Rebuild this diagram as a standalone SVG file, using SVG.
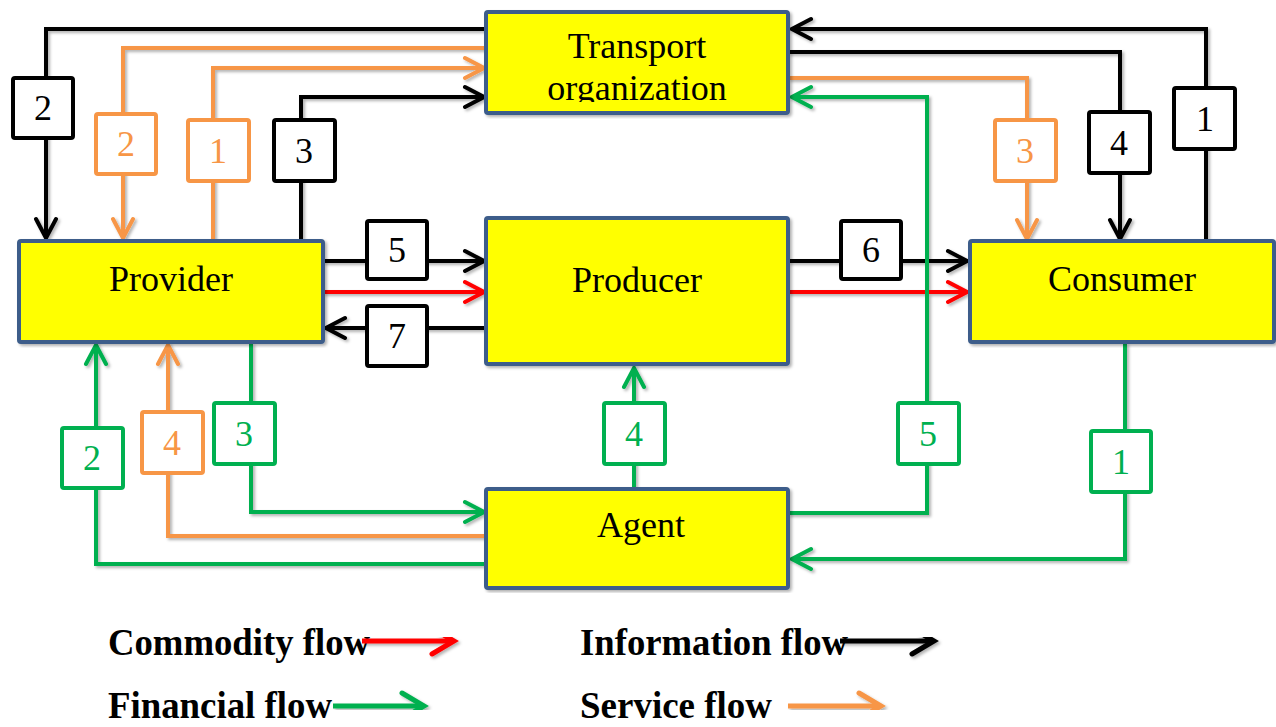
<svg xmlns="http://www.w3.org/2000/svg" width="1276" height="727" viewBox="0 0 1276 727">
<style>
.box{fill:#ffff00;stroke:#3c5d8a;stroke-width:4}
.nt{font-family:"Liberation Serif","Times New Roman",serif;font-size:36px;fill:#000;text-anchor:middle}
.ln{fill:none;stroke-width:4;stroke-linejoin:miter}
.k{stroke:#000}.r{stroke:#ff0000}.g{stroke:#00b050}.o{stroke:#f79646}
.lb{fill:#fff;stroke-width:4}
.lt{font-family:"Liberation Serif","Times New Roman",serif;font-size:36px;text-anchor:middle}
.tk{fill:#000}.tg{fill:#00b050}.to{fill:#f79646}
.leg{font-family:"Liberation Serif","Times New Roman",serif;font-size:37px;font-weight:bold;fill:#000}
.la{fill:none;stroke-width:5}
</style>
<defs>
<filter id="sh" x="-5%" y="-5%" width="110%" height="110%">
<feDropShadow dx="2" dy="2" stdDeviation="1.5" flood-color="#000" flood-opacity="0.3"/>
</filter>
<marker id="ak" markerUnits="userSpaceOnUse" viewBox="-24 -14 28 28" refX="0" refY="0" markerWidth="28" markerHeight="28" orient="auto"><path d="M-19,-10 L0,0 L-19,10" fill="none" stroke="#000" stroke-width="4" stroke-linecap="round"/></marker>
<marker id="ar" markerUnits="userSpaceOnUse" viewBox="-24 -14 28 28" refX="0" refY="0" markerWidth="28" markerHeight="28" orient="auto"><path d="M-19,-10 L0,0 L-19,10" fill="none" stroke="#ff0000" stroke-width="4" stroke-linecap="round"/></marker>
<marker id="ag" markerUnits="userSpaceOnUse" viewBox="-24 -14 28 28" refX="0" refY="0" markerWidth="28" markerHeight="28" orient="auto"><path d="M-19,-10 L0,0 L-19,10" fill="none" stroke="#00b050" stroke-width="4" stroke-linecap="round"/></marker>
<marker id="ao" markerUnits="userSpaceOnUse" viewBox="-24 -14 28 28" refX="0" refY="0" markerWidth="28" markerHeight="28" orient="auto"><path d="M-19,-10 L0,0 L-19,10" fill="none" stroke="#f79646" stroke-width="4" stroke-linecap="round"/></marker>
<marker id="lk" markerUnits="userSpaceOnUse" viewBox="-30 -18 36 36" refX="0" refY="0" markerWidth="36" markerHeight="36" orient="auto"><path d="M-22,-13 L0,0 L-22,13" fill="none" stroke="#000" stroke-width="5" stroke-linecap="round"/></marker>
<marker id="lr" markerUnits="userSpaceOnUse" viewBox="-30 -18 36 36" refX="0" refY="0" markerWidth="36" markerHeight="36" orient="auto"><path d="M-22,-13 L0,0 L-22,13" fill="none" stroke="#ff0000" stroke-width="5" stroke-linecap="round"/></marker>
<marker id="lg" markerUnits="userSpaceOnUse" viewBox="-30 -18 36 36" refX="0" refY="0" markerWidth="36" markerHeight="36" orient="auto"><path d="M-22,-13 L0,0 L-22,13" fill="none" stroke="#00b050" stroke-width="5" stroke-linecap="round"/></marker>
<marker id="lo" markerUnits="userSpaceOnUse" viewBox="-30 -18 36 36" refX="0" refY="0" markerWidth="36" markerHeight="36" orient="auto"><path d="M-22,-13 L0,0 L-22,13" fill="none" stroke="#f79646" stroke-width="5" stroke-linecap="round"/></marker>
<clipPath id="tclip"><rect x="488" y="14" width="298" height="88"/></clipPath>
</defs>
<rect width="1276" height="727" fill="#fff"/>

<g id="connectors" filter="url(#sh)">
<path class="ln k" d="M486,29 H46 V238" marker-end="url(#ak)"/>
<path class="ln k" d="M1206,241 V29 H792" marker-end="url(#ak)"/>
<path class="ln k" d="M788,52 H1120 V239" marker-end="url(#ak)"/>
<path class="ln k" d="M301,241 V97 H484" marker-end="url(#ak)"/>
<path class="ln k" d="M323,261 H484" marker-end="url(#ak)"/>
<path class="ln k" d="M486,328 H326" marker-end="url(#ak)"/>
<path class="ln k" d="M788,261 H967" marker-end="url(#ak)"/>
<path class="ln r" d="M323,292 H484" marker-end="url(#ar)"/>
<path class="ln r" d="M788,292 H967" marker-end="url(#ar)"/>
<path class="ln o" d="M486,48 H123 V238" marker-end="url(#ao)"/>
<path class="ln o" d="M213,241 V68 H484" marker-end="url(#ao)"/>
<path class="ln o" d="M788,78 H1027 V239" marker-end="url(#ao)"/>
<path class="ln o" d="M486,536 H168 V345" marker-end="url(#ao)"/>
<path class="ln g" d="M788,513 H927 V97 H792" marker-end="url(#ag)"/>
<path class="ln g" d="M1125,343 V559 H792" marker-end="url(#ag)"/>
<path class="ln g" d="M486,564 H96 V345" marker-end="url(#ag)"/>
<path class="ln g" d="M251,343 V512 H484" marker-end="url(#ag)"/>
<path class="ln g" d="M634,489 V368" marker-end="url(#ag)"/>
</g>

<g id="labels">
<g id="lbl-i2"><rect class="lb k" x="13" y="78" width="60" height="60" rx="2"/><text class="lt tk" x="43" y="120">2</text></g>
<g id="lbl-i1"><rect class="lb k" x="1174" y="88" width="61" height="61" rx="2"/><text class="lt tk" x="1205" y="131">1</text></g>
<g id="lbl-i4"><rect class="lb k" x="1089" y="112" width="61" height="61" rx="2"/><text class="lt tk" x="1119" y="155">4</text></g>
<g id="lbl-i3"><rect class="lb k" x="274" y="120" width="61" height="61" rx="2"/><text class="lt tk" x="304" y="163">3</text></g>
<g id="lbl-i5"><rect class="lb k" x="367" y="221" width="60" height="58" rx="2"/><text class="lt tk" x="397" y="262">5</text></g>
<g id="lbl-i7"><rect class="lb k" x="367" y="306" width="60" height="60" rx="2"/><text class="lt tk" x="397" y="348">7</text></g>
<g id="lbl-i6"><rect class="lb k" x="841" y="221" width="60" height="58" rx="2"/><text class="lt tk" x="871" y="262">6</text></g>
<g id="lbl-s2"><rect class="lb o" x="96" y="114" width="60" height="60" rx="2"/><text class="lt to" x="126" y="156">2</text></g>
<g id="lbl-s1"><rect class="lb o" x="188" y="120" width="61" height="61" rx="2"/><text class="lt to" x="218" y="163">1</text></g>
<g id="lbl-s3"><rect class="lb o" x="995" y="120" width="61" height="61" rx="2"/><text class="lt to" x="1025" y="163">3</text></g>
<g id="lbl-s4"><rect class="lb o" x="142" y="412" width="61" height="61" rx="2"/><text class="lt to" x="172" y="455">4</text></g>
<g id="lbl-f5"><rect class="lb g" x="898" y="403" width="61" height="61" rx="2"/><text class="lt tg" x="928" y="446">5</text></g>
<g id="lbl-f1"><rect class="lb g" x="1091" y="431" width="60" height="61" rx="2"/><text class="lt tg" x="1121" y="474">1</text></g>
<g id="lbl-f2"><rect class="lb g" x="62" y="428" width="61" height="60" rx="2"/><text class="lt tg" x="92" y="470">2</text></g>
<g id="lbl-f3"><rect class="lb g" x="214" y="403" width="61" height="61" rx="2"/><text class="lt tg" x="244" y="446">3</text></g>
<g id="lbl-f4"><rect class="lb g" x="604" y="403" width="61" height="61" rx="2"/><text class="lt tg" x="634" y="446">4</text></g>
</g>

<g id="transport"><rect class="box" x="486" y="12" width="302" height="101" rx="2" filter="url(#sh)"/><g clip-path="url(#tclip)"><text class="nt" x="637" y="58">Transport</text><text class="nt" x="637" y="100">organization</text></g></g>
<g id="provider"><rect class="box" x="19" y="241" width="304" height="101" rx="2" filter="url(#sh)"/><text class="nt" x="171" y="291">Provider</text></g>
<g id="producer"><rect class="box" x="486" y="218" width="302" height="146" rx="2" filter="url(#sh)"/><text class="nt" x="637" y="292">Producer</text></g>
<g id="consumer"><rect class="box" x="970" y="241" width="304" height="101" rx="2" filter="url(#sh)"/><text class="nt" x="1122" y="291">Consumer</text></g>
<g id="agent"><rect class="box" x="486" y="489" width="302" height="99" rx="2" filter="url(#sh)"/><text class="nt" x="641" y="537">Agent</text></g>

<g id="legend">
<text class="leg" x="108" y="655" textLength="262" lengthAdjust="spacingAndGlyphs">Commodity flow</text>
<text class="leg" x="580" y="655" textLength="268" lengthAdjust="spacingAndGlyphs">Information flow</text>
<text class="leg" x="108" y="718" textLength="224" lengthAdjust="spacingAndGlyphs">Financial flow</text>
<text class="leg" x="580" y="718" textLength="192" lengthAdjust="spacingAndGlyphs">Service flow</text>
<g filter="url(#sh)">
<path class="la r" d="M362,641 H454" marker-end="url(#lr)"/>
<path class="la k" d="M840,641 H934" marker-end="url(#lk)"/>
<path class="la g" d="M333,706 H424" marker-end="url(#lg)"/>
<path class="la o" d="M788,706 H881" marker-end="url(#lo)"/>
</g>
</g>
</svg>
